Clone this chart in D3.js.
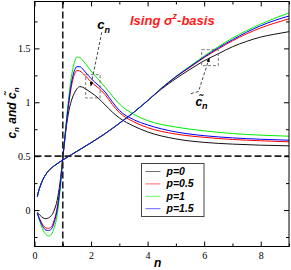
<!DOCTYPE html>
<html>
<head>
<meta charset="utf-8">
<script src="https://cdn.jsdelivr.net/npm/d3@7"></script>
<style>
  body { margin: 0; background: #fff; }
  svg { display: block; }
</style>
</head>
<body>
<svg id="chart" width="291" height="270"></svg>
<script>
// series labels and colours
const seriesNames = ["p=0", "p=0.5", "p=1", "p=1.5"]
const seriesColors = ["#111111", "#ff0000", "#00ee00", "#0000ff"]

// c_n curves (the peaked ones)
const nPeak = [0.1, 0.2, 0.3, 0.4, 0.5, 0.6, 0.7, 0.8, 0.9, 1.0, 1.1, 1.2, 1.3, 1.4, 1.5, 1.6, 1.7, 1.8, 2.0, 2.25, 2.5, 2.75, 3.0, 3.5, 4, 5, 6, 7, 8, 9]
const cP0 = [-0.02, -0.05, -0.072, -0.08, -0.072, -0.05, 0.0, 0.09, 0.25, 0.48, 0.72, 0.9, 1.01, 1.08, 1.125, 1.145, 1.14, 1.125, 1.09, 1.04, 0.975, 0.91, 0.855, 0.78, 0.725, 0.66, 0.628, 0.612, 0.602, 0.596]
const cP05 = [-0.03, -0.09, -0.14, -0.165, -0.17, -0.155, -0.09, 0.02, 0.21, 0.48, 0.73, 0.96, 1.14, 1.25, 1.295, 1.29, 1.27, 1.245, 1.19, 1.135, 1.07, 0.98, 0.905, 0.82, 0.765, 0.705, 0.675, 0.655, 0.643, 0.633]
const cP1 = [-0.03, -0.115, -0.185, -0.225, -0.24, -0.225, -0.16, -0.05, 0.17, 0.48, 0.76, 1.02, 1.23, 1.36, 1.42, 1.415, 1.39, 1.36, 1.29, 1.215, 1.14, 1.06, 0.985, 0.89, 0.83, 0.77, 0.735, 0.71, 0.695, 0.685]
const cP15 = [-0.03, -0.1, -0.155, -0.185, -0.19, -0.175, -0.11, 0.0, 0.2, 0.48, 0.74, 0.98, 1.17, 1.285, 1.33, 1.33, 1.31, 1.28, 1.22, 1.16, 1.095, 1.005, 0.925, 0.84, 0.79, 0.725, 0.69, 0.67, 0.657, 0.648]

// c~_n curves (the rising ones)
const nRise = [0.1, 0.15, 0.2, 0.3, 0.4, 0.5, 0.6, 0.8, 1.0, 1.25, 1.5, 2, 2.5, 3, 3.5, 4, 4.5, 5, 5.5, 6, 6.5, 7, 7.5, 8, 8.5, 9]
const tP0 = [0.125, 0.18, 0.22, 0.285, 0.33, 0.365, 0.39, 0.43, 0.465, 0.505, 0.545, 0.625, 0.71, 0.805, 0.905, 1.015, 1.125, 1.22, 1.305, 1.385, 1.45, 1.515, 1.565, 1.605, 1.632, 1.655]
const tP05 = [0.125, 0.18, 0.22, 0.285, 0.33, 0.365, 0.39, 0.43, 0.465, 0.505, 0.545, 0.625, 0.71, 0.805, 0.905, 1.015, 1.13, 1.235, 1.325, 1.415, 1.495, 1.57, 1.635, 1.69, 1.735, 1.775]
const tP1 = [0.125, 0.18, 0.22, 0.285, 0.33, 0.365, 0.39, 0.43, 0.465, 0.505, 0.545, 0.625, 0.71, 0.805, 0.905, 1.015, 1.135, 1.24, 1.335, 1.43, 1.515, 1.595, 1.665, 1.725, 1.78, 1.83]
const tP15 = [0.125, 0.18, 0.22, 0.285, 0.33, 0.365, 0.39, 0.43, 0.465, 0.505, 0.545, 0.625, 0.71, 0.805, 0.905, 1.015, 1.132, 1.238, 1.33, 1.42, 1.505, 1.58, 1.65, 1.71, 1.76, 1.80]

const peakSeries = [cP0, cP05, cP1, cP15]
const riseSeries = [tP0, tP05, tP1, tP15]

// axis ticks
const xMajor = [0, 2, 4, 6, 8]
const xMinor = [1, 3, 5, 7, 9]
const yMajor = [0, 0.5, 1, 1.5]
const yMinor = [-0.25, 0.25, 0.75, 1.25, 1.75]

const marginLeft = 34.5, marginRight = 289, marginTop = 1.5, marginBottom = 246.5

const x = d3.scaleLinear([0, 9], [marginLeft, marginRight])
const y = d3.scaleLinear([-0.338, 1.935], [marginBottom, marginTop])

const svg = d3.select("#chart")
const serif = "'Liberation Serif', 'Times New Roman', 'DejaVu Serif', serif"
const sans = "'Liberation Sans', Arial, sans-serif"

const line = d3.line()
    .x(d => x(d[0]))
    .y(d => y(d[1]))
    .curve(d3.curveMonotoneX)

const plot = svg.append("g")

// curves
seriesNames.forEach((name, i) => {
  plot.append("path")
      .datum(nRise.map((n, j) => [n, riseSeries[i][j]]))
      .attr("fill", "none")
      .attr("stroke", seriesColors[i])
      .attr("stroke-width", 1)
      .attr("d", line)
  plot.append("path")
      .datum(nPeak.map((n, j) => [n, peakSeries[i][j]]))
      .attr("fill", "none")
      .attr("stroke", seriesColors[i])
      .attr("stroke-width", 1)
      .attr("d", line)
})

// reference dashed lines
svg.append("line")
    .attr("x1", x(1)).attr("x2", x(1))
    .attr("y1", marginTop).attr("y2", marginBottom)
    .attr("stroke", "#222").attr("stroke-width", 1.6)
    .attr("stroke-dasharray", "7,3")
svg.append("line")
    .attr("x1", marginLeft).attr("x2", marginRight)
    .attr("y1", y(0.5)).attr("y2", y(0.5))
    .attr("stroke", "#222").attr("stroke-width", 1.6)
    .attr("stroke-dasharray", "7,3")

// axes, ticks pointing inwards
function styleAxis(g) {
  g.attr("font-family", null)
  g.select(".domain").remove()
  g.selectAll(".tick line").attr("stroke", "#000")
  g.selectAll("text")
      .style("font-family", serif).style("font-size", "10px").attr("fill", "#000")
}
svg.append("g").attr("transform", `translate(0,${marginBottom})`)
    .call(d3.axisBottom(x).tickValues(xMajor).tickSize(-5).tickPadding(5).tickFormat(d3.format("d")))
    .call(styleAxis)
svg.append("g").attr("transform", `translate(0,${marginBottom})`)
    .call(d3.axisBottom(x).tickValues(xMinor).tickSize(-3).tickFormat(""))
    .call(styleAxis)
svg.append("g").attr("transform", `translate(0,${marginTop})`)
    .call(d3.axisTop(x).tickValues(xMajor).tickSize(-5).tickFormat(""))
    .call(styleAxis)
svg.append("g").attr("transform", `translate(0,${marginTop})`)
    .call(d3.axisTop(x).tickValues(xMinor).tickSize(-3).tickFormat(""))
    .call(styleAxis)
svg.append("g").attr("transform", `translate(${marginLeft},0)`)
    .call(d3.axisLeft(y).tickValues(yMajor).tickSize(-5).tickPadding(4).tickFormat(d => d3.format("")(d)))
    .call(styleAxis)
svg.append("g").attr("transform", `translate(${marginLeft},0)`)
    .call(d3.axisLeft(y).tickValues(yMinor).tickSize(-3).tickFormat(""))
    .call(styleAxis)
svg.append("g").attr("transform", `translate(${marginRight},0)`)
    .call(d3.axisRight(y).tickValues(yMajor).tickSize(-5).tickFormat(""))
    .call(styleAxis)
svg.append("g").attr("transform", `translate(${marginRight},0)`)
    .call(d3.axisRight(y).tickValues(yMinor).tickSize(-3).tickFormat(""))
    .call(styleAxis)

// frame
svg.append("rect")
    .attr("x", marginLeft).attr("y", marginTop)
    .attr("width", marginRight - marginLeft).attr("height", marginBottom - marginTop)
    .attr("fill", "none").attr("stroke", "#000").attr("stroke-width", 1)

// axis titles
svg.append("text")
    .attr("x", (marginLeft + marginRight) / 2 - 4).attr("y", 267)
    .attr("text-anchor", "middle")
    .attr("font-family", sans).attr("font-weight", "bold").attr("font-style", "italic")
    .attr("font-size", 12)
    .text("n")

const yTitle = svg.append("text")
    .attr("transform", "translate(16,113) rotate(-90)")
    .attr("text-anchor", "middle")
    .attr("font-family", sans).attr("font-weight", "bold").attr("font-style", "italic")
    .attr("font-size", 12)
yTitle.append("tspan").text("c")
yTitle.append("tspan").attr("font-size", 8).attr("dy", 3).text("n")
yTitle.append("tspan").attr("dy", -3).text("  and  ")
yTitle.append("tspan").text("c\u0303")
yTitle.append("tspan").attr("font-size", 8).attr("dy", 3).text("n")

// title
const title = svg.append("text")
    .attr("x", 130).attr("y", 25)
    .attr("fill", "#ff1a1a")
    .attr("font-family", sans).attr("font-weight", "bold").attr("font-style", "italic")
    .attr("font-size", 13)
title.append("tspan").text("Ising \u03c3")
title.append("tspan").attr("font-size", 9).attr("dy", -6).text("z")
title.append("tspan").attr("dy", 6).text("-basis")

// annotations (positions in data units)
const defs = svg.append("defs")
defs.append("marker")
    .attr("id", "head")
    .attr("viewBox", "0 0 10 10").attr("refX", 9).attr("refY", 5)
    .attr("markerWidth", 5).attr("markerHeight", 5)
    .attr("orient", "auto")
  .append("path").attr("d", "M0,1 L10,5 L0,9 Z").attr("fill", "#000")

function dashedBox(n0, n1, v0, v1) {
  svg.append("rect")
      .attr("x", x(n0)).attr("y", y(v1))
      .attr("width", x(n1) - x(n0)).attr("height", y(v0) - y(v1))
      .attr("fill", "none").attr("stroke", "#555").attr("stroke-width", 0.8)
      .attr("stroke-dasharray", "3,2")
}
function dashedArrow(points) {
  svg.append("path")
      .attr("d", d3.line().x(d => x(d[0])).y(d => y(d[1]))(points))
      .attr("fill", "none").attr("stroke", "#333").attr("stroke-width", 0.9)
      .attr("stroke-dasharray", "3,2")
      .attr("marker-end", "url(#head)")
}

dashedBox(1.81, 2.32, 1.04, 1.256)
dashedArrow([[2.38, 1.65], [1.99, 1.15]])
const lab1 = svg.append("text")
    .attr("x", x(2.22)).attr("y", y(1.68))
    .attr("font-family", sans).attr("font-weight", "bold").attr("font-style", "italic")
    .attr("font-size", 13)
lab1.append("tspan").text("c")
lab1.append("tspan").attr("font-size", 9).attr("dy", 4).text("n")

dashedBox(5.91, 6.5, 1.34, 1.488)
dashedArrow([[5.53, 1.08], [5.8, 1.1], [6.18, 1.41]])
const lab2 = svg.append("text")
    .attr("x", x(5.69)).attr("y", y(0.97))
    .attr("font-family", sans).attr("font-weight", "bold").attr("font-style", "italic")
    .attr("font-size", 12)
lab2.append("tspan").text("c\u0303")
lab2.append("tspan").attr("font-size", 9).attr("dy", 3).text("n")

// legend
const legend = svg.append("g").attr("transform", "translate(141.5,163.5)")
legend.append("rect")
    .attr("width", 62.5).attr("height", 53)
    .attr("fill", "#fff").attr("stroke", "#444").attr("stroke-width", 1)
seriesNames.forEach((name, i) => {
  const ly = 8 + i * 12.4
  legend.append("line")
      .attr("x1", 4).attr("x2", 19)
      .attr("y1", ly).attr("y2", ly)
      .attr("stroke", seriesColors[i]).attr("stroke-width", 1)
      .attr("stroke-opacity", 0.6)
  legend.append("text")
      .attr("x", 25).attr("y", ly + 3.5)
      .attr("font-family", sans).attr("font-weight", "bold").attr("font-style", "italic")
      .attr("font-size", 10.5)
      .text(name)
})
</script>
</body>
</html>
